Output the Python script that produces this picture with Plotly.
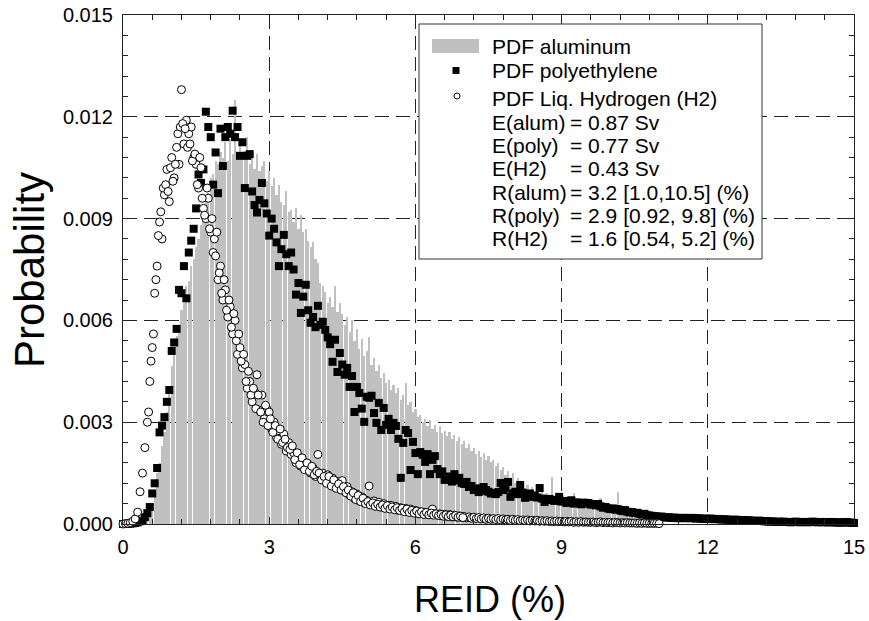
import plotly.graph_objects as go

# ---------------- data (probability in units of 1e-5) ----------------
BIN = 0.05

# PDF aluminum (gray bars), bins starting at REID = 0.50 %
alum_x0 = 0.50
alum_e5 = [
    5, 20, 55, 100, 150, 180, 230, 270, 330, 400,
    465, 500, 555, 580, 630, 650, 700, 715, 760, 780,
    815, 840, 880, 910, 960, 975, 1020, 1030, 1070, 1060,
    1095, 1080, 1125, 1070, 1135, 1090, 1250, 1080, 1120, 1085,
    1100, 1140, 1060, 1095, 1045, 1090, 1040, 1055, 1070, 1010,
    1040, 995, 1020, 970, 1000, 950, 940, 980, 920, 925,
    890, 930, 870, 910, 860, 870, 835, 815, 830, 780,
    770, 710, 700, 683, 650, 670, 640, 700, 625, 650,
    620, 585, 610, 565, 600, 540, 575, 515, 545, 495,
    510, 551, 470, 490, 450, 470, 430, 445, 415, 425,
    395, 410, 385, 400, 365, 380, 415, 350, 360, 330,
    340, 315, 320, 300, 310, 290, 307, 280, 292, 272,
    290, 268, 275, 258, 272, 250, 262, 244, 255, 236,
    245, 225, 235, 215, 225, 205, 215, 198, 208, 190,
    200, 182, 190, 172, 180, 160, 168, 145, 155, 130,
    150, 122, 135, 112, 125, 105, 115, 96, 108, 92,
    100, 86, 94, 82, 90, 78, 139, 76, 84, 72,
    80, 68, 76, 66, 72, 91, 68, 60, 66, 56,
    62, 52, 58, 50, 55, 46, 77, 44, 50, 40,
    46, 36, 42, 94, 38, 30, 36, 28, 32, 24,
    28, 22, 24, 18, 20, 14, 16, 10, 12, 6,
]

# PDF polyethylene (black squares), starting at REID = 0.00 %
poly_x0 = 0.0
poly_e5 = [
    0, 0, 1, 1, 2, 3, 5, 8, 10, 20,
    32, 50, 90, 120, 165, 270, 290, 315, 360, 395,
    510, 535, 575, 690, 680, 760, 665, 800, 835, 870,
    930, 1030, 1005, 1045, 1215, 1170, 1140, 1000, 1095, 975,
    1165, 1055, 1140, 1170, 1150, 1218, 1140, 1170, 1085, 1125,
    990, 1085, 1090, 980, 940, 918, 955, 1005, 945, 915,
    850, 900, 870, 830, 760, 810, 852, 795, 760, 800,
    750, 676, 710, 622, 670, 705, 630, 593, 610, 580,
    643, 587, 596, 572, 550, 530, 478, 543, 448, 504,
    470, 440, 460, 404, 436, 330, 404, 386, 340, 301,
    375, 372, 378, 327, 298, 357, 277, 342, 292, 310,
    277, 298, 289, 251, 136, 239, 277, 268, 159, 242,
    209, 147, 212, 204, 183, 206, 147, 189, 200, 162,
    147, 155, 130, 132, 140, 125, 147, 128, 136, 121,
    118, 124, 109, 112, 100, 105, 94, 98, 109, 100,
    95, 90, 91, 88, 94, 121, 100, 105, 124, 80,
    90, 95, 88, 115, 92, 77, 85, 90, 80, 84,
    78, 106, 75, 65, 72, 74, 71, 68, 70, 80,
    66, 68, 62, 65, 70, 60, 64, 62, 58, 63,
    60, 62, 57, 59, 55, 59, 52, 48, 50, 46,
    44, 46, 42, 44, 40, 38, 41, 36, 34, 35,
    32, 33, 30, 28, 30, 26, 25, 24, 23, 22,
    21, 22, 20, 19, 20, 18, 19, 18, 17, 18,
    18, 17, 18, 17, 18, 16, 17, 16, 15, 16,
    15, 16, 15, 14, 15, 14, 13, 14, 13, 12,
    12, 13, 12, 11, 12, 11, 10, 11, 10, 9,
    9, 10, 9, 8, 8, 7, 8, 7, 6, 7,
    6, 7, 6, 6, 5, 6, 7, 6, 5, 6,
    6, 5, 6, 7, 6, 5, 6, 5, 6, 5,
    5, 6, 5, 4, 5, 4, 5, 6, 4, 4,
    3,
]

# PDF liquid hydrogen (open circles), starting at REID = 0.00 %
h2_x0 = 0.0
h2_e5 = [
    0, 1, 2, 4, 8, 15, 35, 95, 150, 225,
    300, 420, 520, 680, 760, 890, 840, 970, 1045, 950,
    1080, 1020, 1110, 1060, 1280, 1120, 1190, 1150, 1170, 1080,
    1060, 990, 1050, 930, 900, 960, 860, 800, 790, 720,
    760, 660, 690, 610, 640, 560, 600, 500, 520, 460,
    470, 400, 420, 360, 390, 440, 335, 380, 310, 340,
    330, 280, 300, 255, 275, 235, 265, 215, 240, 205,
    210, 180, 200, 170, 185, 160, 175, 150, 165, 140,
    205, 140, 150, 125, 145, 120, 135, 110, 125, 105,
    128, 100, 110, 85, 95, 75, 88, 68, 80, 62,
    70, 112, 60, 68, 55, 64, 50, 60, 48, 55,
    55, 44, 52, 40, 48, 38, 46, 36, 44, 34,
    40, 32, 36, 30, 34, 28, 32, 44, 30, 26,
    30, 24, 29, 22, 28, 21, 26, 20, 24, 19,
    22, 18, 21, 17, 20, 16, 19, 15, 18, 14,
    17, 14, 16, 13, 16, 12, 15, 12, 14, 11,
    14, 11, 13, 10, 12, 10, 12, 9, 11, 9,
    11, 8, 10, 8, 10, 7, 9, 7, 9, 7,
    8, 6, 8, 6, 8, 5, 7, 5, 7, 5,
    6, 5, 5, 6, 4, 5, 6, 4, 5, 4,
    5, 3, 5, 4, 3, 4, 3, 4, 3, 3,
    3, 2, 3, 2, 3, 2, 2, 2, 2, 2,
    1,
]

# additional H2 points lying between the bins above, starting at REID = 0.525 %
h2b_x0 = 0.525
h2b_e5 = [
    330, 480, 560, 720, 850, 920, 990, 1000, 980, 1050,
    1010, 1060, 1150, 1170, 1180, 1165, 1110, 1120, 1070, 1090,
    1000, 1080, 960, 910, 990, 870, 900, 840, 860, 740,
    680, 720, 630, 660, 580, 620, 540, 560, 480, 500,
    420, 450, 380, 400, 340, 380, 330, 300, 350, 290,
    310, 270, 290, 250, 280, 240, 250, 225, 220, 230,
    190, 210, 175, 195, 160, 180, 155, 170, 145, 155,
    150, 130, 140, 120, 140, 112, 130, 105, 118, 100,
    110, 92, 100, 82, 92, 72, 84, 66, 76, 60,
    66, 56, 62, 52, 58, 50, 56, 46, 54, 44,
    50, 42, 48, 40, 46, 36, 44, 34, 40, 32,
    38, 30, 36, 28, 34, 27, 32, 26, 30, 25,
    28, 23, 27, 22, 26, 21, 25, 20, 23, 19,
]

legend_rows = ["PDF aluminum", "PDF polyethylene", "PDF Liq. Hydrogen (H2)"]
stat_labels = ["E(alum)", "E(poly)", "E(H2)", "R(alum)", "R(poly)", "R(H2)"]
stat_values = ["= 0.87 Sv", "= 0.77 Sv", "= 0.43 Sv",
               "= 3.2 [1.0,10.5] (%)", "= 2.9 [0.92, 9.8] (%)", "= 1.6 [0.54, 5.2] (%)"]

x_ticks = [0, 3, 6, 9, 12, 15]
y_ticks = [0.000, 0.003, 0.006, 0.009, 0.012, 0.015]


def centers(x0, n):
    return [round(x0 + BIN * i, 3) for i in range(n)]


def prob(vals):
    return [v * 1e-5 for v in vals]


# ---------------- figure ----------------
W, H = 869, 621
PL, PR, PT, PB = 123, 854, 15, 524          # plot-area edges in pixels
L, R, T, B = PL, W - PR, PT, H - PB
PW, PH = PR - PL, PB - PT


def px(xp):
    return (xp - PL) / PW


def py(yp):
    return (PB - yp) / PH


FONT = "Arial, Liberation Sans, sans-serif"

h2_x = centers(h2_x0, len(h2_e5)) + centers(h2b_x0, len(h2b_e5))
h2_y = prob(h2_e5) + prob(h2b_e5)

fig = go.Figure()
fig.add_trace(go.Bar(
    x=centers(alum_x0, len(alum_e5)), y=prob(alum_e5), width=BIN * 0.9,
    marker=dict(color="#c0c0c0", line=dict(width=0)), name="PDF aluminum",
))
fig.add_trace(go.Scatter(
    x=centers(poly_x0, len(poly_e5)), y=prob(poly_e5), mode="markers",
    marker=dict(symbol="square", size=8, color="black", line=dict(width=0)),
    cliponaxis=False, name="PDF polyethylene",
))
fig.add_trace(go.Scatter(
    x=h2_x, y=h2_y, mode="markers",
    marker=dict(symbol="circle", size=8, color="white", line=dict(width=1, color="black")),
    cliponaxis=False, name="PDF Liq. Hydrogen (H2)",
))

axis_common = dict(
    showline=True, linecolor="#222", linewidth=1, mirror="ticks",
    ticks="inside", ticklen=7, tickcolor="#222", tickwidth=1,
    showgrid=True, gridcolor="#222", gridwidth=1, griddash="14px,7px",
    zeroline=False, automargin=False, ticklabeloverflow="allow",
    tickfont=dict(family=FONT, size=20, color="black"),
)

fig.update_layout(
    width=W, height=H, margin=dict(l=L, r=R, t=T, b=B, pad=0, autoexpand=False),
    paper_bgcolor="white", plot_bgcolor="white", showlegend=False,
    bargap=0,
    xaxis=dict(range=[0, 15], tickvals=x_ticks, ticktext=[str(v) for v in x_ticks],
               minor=dict(dtick=0.6, tick0=0, ticks="inside", ticklen=5, tickcolor="#222", showgrid=False),
               ticklabelstandoff=5, **axis_common),
    yaxis=dict(range=[0, 0.015], tickvals=y_ticks, ticktext=[f"{v:.3f}" for v in y_ticks],
               minor=dict(dtick=0.0006, tick0=0, ticks="inside", ticklen=5, tickcolor="#222", showgrid=False),
               ticklabelstandoff=5, **axis_common),
)

# legend box and symbols
shapes = [
    dict(type="rect", xref="paper", yref="paper", x0=px(419), x1=px(762), y0=py(259), y1=py(24),
         fillcolor="white", line=dict(color="#333", width=1), layer="above"),
    dict(type="rect", xref="paper", yref="paper", x0=px(432), x1=px(479), y0=py(53), y1=py(39),
         fillcolor="#c0c0c0", line=dict(width=0), layer="above"),
    dict(type="rect", xref="paper", yref="paper", x0=px(452.5), x1=px(459.5), y0=py(74), y1=py(67),
         fillcolor="black", line=dict(width=0), layer="above"),
    dict(type="circle", xref="paper", yref="paper", x0=px(454), x1=px(460), y0=py(99), y1=py(93),
         fillcolor="white", line=dict(color="black", width=1), layer="above"),
]

annotations = []
for txt, yp in zip(legend_rows, [46, 70, 98]):
    annotations.append(dict(text=txt, xref="paper", yref="paper", x=px(490), y=py(yp),
                            xanchor="left", yanchor="middle", showarrow=False,
                            font=dict(family=FONT, size=21, color="black")))
for lab, val, yp in zip(stat_labels, stat_values, [122, 146, 169, 193, 216, 239]):
    annotations.append(dict(text=lab, xref="paper", yref="paper", x=px(490), y=py(yp),
                            xanchor="left", yanchor="middle", showarrow=False,
                            font=dict(family=FONT, size=21, color="black")))
    annotations.append(dict(text=val, xref="paper", yref="paper", x=px(568), y=py(yp),
                            xanchor="left", yanchor="middle", showarrow=False,
                            font=dict(family=FONT, size=21, color="black")))

annotations.append(dict(text="Probability", xref="paper", yref="paper", x=px(29), y=py(270),
                        xanchor="center", yanchor="middle", textangle=-90, showarrow=False,
                        font=dict(family=FONT, size=42, color="black")))
annotations.append(dict(text="REID (%)", xref="paper", yref="paper", x=px(490), y=py(599),
                        xanchor="center", yanchor="middle", showarrow=False,
                        font=dict(family=FONT, size=36, color="black")))

fig.update_layout(shapes=shapes, annotations=annotations)
# remove the default 8px page margin so the figure fills the window exactly
fig.write_html("out.html", config={"displayModeBar": False},
               post_script="document.body.style.margin='0px';")
